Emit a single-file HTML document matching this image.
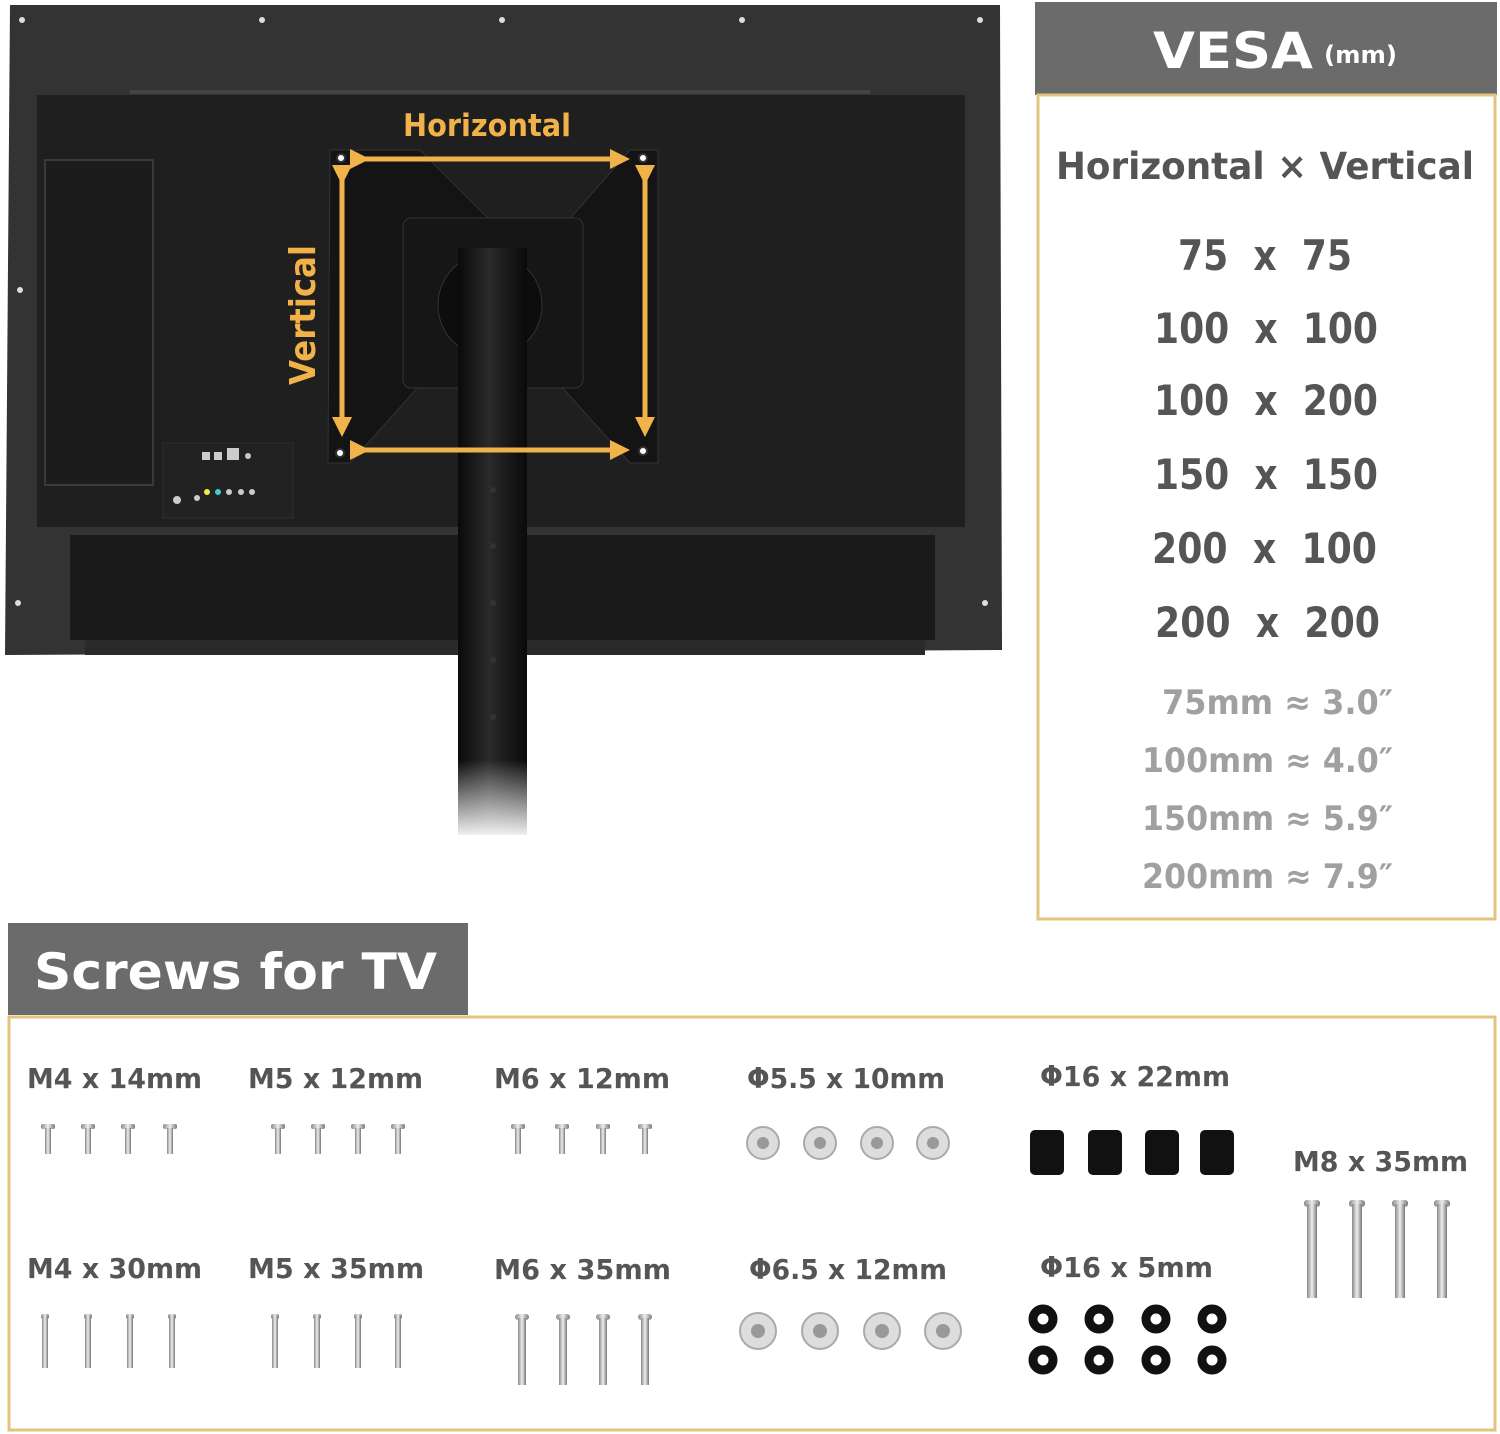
<!DOCTYPE html>
<html><head><meta charset="utf-8"><style>
html,body{margin:0;padding:0;background:#fff;}
svg{display:block}
text{font-family:"DejaVu Sans","Liberation Sans",sans-serif;font-weight:bold;}
</style></head><body>
<svg width="1500" height="1434" viewBox="0 0 1500 1434" xmlns="http://www.w3.org/2000/svg">
<defs>
<linearGradient id="pole" x1="0" x2="1"><stop offset="0" stop-color="#0a0a0a"/><stop offset="0.45" stop-color="#2a2a2a"/><stop offset="1" stop-color="#0a0a0a"/></linearGradient>
<linearGradient id="fade" x1="0" y1="0" x2="0" y2="1"><stop offset="0" stop-color="#fff" stop-opacity="0"/><stop offset="1" stop-color="#fff"/></linearGradient>
<linearGradient id="scr" x1="0" x2="1"><stop offset="0" stop-color="#888"/><stop offset="0.5" stop-color="#eee"/><stop offset="1" stop-color="#777"/></linearGradient>
<marker id="ah" markerWidth="4" markerHeight="4" refX="3" refY="2" orient="auto" markerUnits="strokeWidth"><path d="M0,0 L4,2 L0,4 z" fill="#f2b24a"/></marker>
<g id="s1" fill="url(#scr)"><rect x="-7" y="1124" width="14" height="5" rx="2"/><rect x="-3" y="1128" width="6" height="26"/></g>
<g id="s2" fill="url(#scr)"><rect x="-4" y="1314" width="8" height="5" rx="2"/><rect x="-3" y="1316" width="6" height="52"/></g>
<g id="s3" fill="url(#scr)"><rect x="-7" y="1314" width="14" height="6" rx="3"/><rect x="-4" y="1318" width="8" height="67"/></g>
<g id="s4" fill="url(#scr)"><rect x="-8" y="1200" width="16" height="7" rx="3"/><rect x="-5" y="1204" width="10" height="94"/></g>
</defs>
<!-- TV -->
<path d="M10,5 L1000,5 L1002,650 L5,655 Z" fill="#333"/>
<rect x="37" y="95" width="928" height="432" fill="#1f1f1f"/>
<line x1="130" y1="92" x2="870" y2="92" stroke="#444" stroke-width="4"/>
<rect x="45" y="160" width="108" height="325" fill="#1c1c1c" stroke="#3a3a3a" stroke-width="2"/>
<rect x="163" y="443" width="130" height="75" fill="#222" stroke="#2d2d2d"/>
<rect x="70" y="535" width="865" height="105" fill="#1a1a1a"/>
<rect x="85" y="640" width="840" height="15" fill="#2a2a2a"/>
<g fill="#ddd"><circle cx="20" cy="290" r="3"/><circle cx="18" cy="603" r="3"/><circle cx="985" cy="603" r="3"/><circle cx="262" cy="20" r="3"/><circle cx="502" cy="20" r="3"/><circle cx="742" cy="20" r="3"/><circle cx="980" cy="20" r="3"/><circle cx="22" cy="20" r="3"/></g>
<g fill="#ccc"><rect x="202" y="452" width="8" height="8"/><rect x="214" y="452" width="8" height="8"/><rect x="227" y="448" width="12" height="12"/><circle cx="248" cy="456" r="3"/><circle cx="177" cy="500" r="4"/><circle cx="197" cy="498" r="3"/></g>
<g><circle cx="207" cy="492" r="3" fill="#ee4"/><circle cx="218" cy="492" r="3" fill="#4cc"/><circle cx="229" cy="492" r="3" fill="#ccc"/><circle cx="241" cy="492" r="3" fill="#ccc"/><circle cx="252" cy="492" r="3" fill="#ccc"/></g>
<!-- VESA plate -->
<path d="M330,150 L420,150 L500,230 L560,230 L630,150 L658,150 L658,463 L630,463 L560,385 L420,385 L350,463 L328,463 Z" fill="#141414" stroke="#333"/>
<rect x="403" y="218" width="180" height="170" rx="8" fill="#161616" stroke="#333"/>
<circle cx="490" cy="305" r="52" fill="#0d0d0d" stroke="#333"/>
<!-- pole -->
<rect x="458" y="248" width="69" height="500" fill="url(#pole)"/>
<rect x="458" y="745" width="69" height="90" fill="url(#pole)"/>
<rect x="450" y="760" width="85" height="80" fill="url(#fade)"/>
<g fill="#333"><circle cx="493" cy="490" r="3"/><circle cx="493" cy="546" r="3"/><circle cx="493" cy="603" r="3"/><circle cx="493" cy="660" r="3"/><circle cx="493" cy="717" r="3"/></g>
<!-- arrows -->
<g stroke="#f2b24a" stroke-width="5" fill="none">
<line x1="365" y1="159" x2="625" y2="159" marker-end="url(#ah)" marker-start="url(#ah)"/>
<line x1="365" y1="450" x2="625" y2="450" marker-end="url(#ah)" marker-start="url(#ah)"/>
<line x1="342" y1="180" x2="342" y2="432" marker-end="url(#ah)" marker-start="url(#ah)"/>
<line x1="645" y1="180" x2="645" y2="432" marker-end="url(#ah)" marker-start="url(#ah)"/>
</g>
<g fill="#fff" stroke="#333" stroke-width="2"><circle cx="341" cy="158" r="4"/><circle cx="643" cy="158" r="4"/><circle cx="340" cy="453" r="4"/><circle cx="643" cy="451" r="4"/></g>
<text x="403" y="136" font-size="31" fill="#f2b24a" textLength="168" lengthAdjust="spacingAndGlyphs">Horizontal</text>
<text transform="translate(315,385) rotate(-90)" font-size="36" fill="#f2b24a" textLength="140" lengthAdjust="spacingAndGlyphs">Vertical</text>
<!-- VESA panel -->
<rect x="1035" y="2" width="462" height="93" fill="#6b6b6b"/>
<text x="1153" y="68" font-size="50" fill="#fff" textLength="160" lengthAdjust="spacingAndGlyphs">VESA</text>
<text x="1324" y="63" font-size="24" fill="#fff" textLength="73" lengthAdjust="spacingAndGlyphs">(mm)</text>
<rect x="1038" y="95" width="457" height="824" fill="none" stroke="#e3c47f" stroke-width="3"/>
<text x="1056" y="179" font-size="37" fill="#555" textLength="418" lengthAdjust="spacingAndGlyphs">Horizontal × Vertical</text>
<g font-size="42" fill="#555">
<text x="1178" y="270" textLength="174" lengthAdjust="spacingAndGlyphs" xml:space="preserve">75  x  75</text>
<text x="1154" y="343" textLength="224" lengthAdjust="spacingAndGlyphs" xml:space="preserve">100  x  100</text>
<text x="1154" y="415" textLength="224" lengthAdjust="spacingAndGlyphs" xml:space="preserve">100  x  200</text>
<text x="1154" y="489" textLength="224" lengthAdjust="spacingAndGlyphs" xml:space="preserve">150  x  150</text>
<text x="1152" y="563" textLength="225" lengthAdjust="spacingAndGlyphs" xml:space="preserve">200  x  100</text>
<text x="1155" y="637" textLength="225" lengthAdjust="spacingAndGlyphs" xml:space="preserve">200  x  200</text>
</g>
<g font-size="34" fill="#a0a0a0">
<text x="1162" y="714" textLength="231" lengthAdjust="spacingAndGlyphs">75mm ≈ 3.0″</text>
<text x="1142" y="772" textLength="251" lengthAdjust="spacingAndGlyphs">100mm ≈ 4.0″</text>
<text x="1142" y="830" textLength="251" lengthAdjust="spacingAndGlyphs">150mm ≈ 5.9″</text>
<text x="1142" y="888" textLength="251" lengthAdjust="spacingAndGlyphs">200mm ≈ 7.9″</text>
</g>
<!-- Screws -->
<rect x="8" y="923" width="460" height="92" fill="#6b6b6b"/>
<text x="34" y="989" font-size="50" fill="#fff" textLength="403" lengthAdjust="spacingAndGlyphs">Screws for TV</text>
<rect x="9" y="1017" width="1486" height="413" fill="none" stroke="#e3c47f" stroke-width="3"/>
<g font-size="28" fill="#555" lengthAdjust="spacingAndGlyphs">
<text x="27" y="1088" textLength="175" lengthAdjust="spacingAndGlyphs">M4 x 14mm</text><text x="248" y="1088" textLength="175" lengthAdjust="spacingAndGlyphs">M5 x 12mm</text><text x="494" y="1088" textLength="176" lengthAdjust="spacingAndGlyphs">M6 x 12mm</text>
<text x="747" y="1088" textLength="198" lengthAdjust="spacingAndGlyphs">Φ5.5 x 10mm</text><text x="1040" y="1086" textLength="190" lengthAdjust="spacingAndGlyphs">Φ16 x 22mm</text><text x="1293" y="1171" textLength="175" lengthAdjust="spacingAndGlyphs">M8 x 35mm</text>
<text x="27" y="1278" textLength="175" lengthAdjust="spacingAndGlyphs">M4 x 30mm</text><text x="248" y="1278" textLength="176" lengthAdjust="spacingAndGlyphs">M5 x 35mm</text><text x="494" y="1279" textLength="177" lengthAdjust="spacingAndGlyphs">M6 x 35mm</text>
<text x="749" y="1279" textLength="198" lengthAdjust="spacingAndGlyphs">Φ6.5 x 12mm</text><text x="1040" y="1277" textLength="173" lengthAdjust="spacingAndGlyphs">Φ16 x 5mm</text>
</g>
<use href="#s1" x="48"/><use href="#s1" x="88"/><use href="#s1" x="128"/><use href="#s1" x="170"/>
<use href="#s1" x="278"/><use href="#s1" x="318"/><use href="#s1" x="358"/><use href="#s1" x="398"/>
<use href="#s1" x="518"/><use href="#s1" x="562"/><use href="#s1" x="603"/><use href="#s1" x="645"/>
<use href="#s2" x="45"/><use href="#s2" x="88"/><use href="#s2" x="130"/><use href="#s2" x="172"/>
<use href="#s2" x="275"/><use href="#s2" x="317"/><use href="#s2" x="358"/><use href="#s2" x="398"/>
<use href="#s3" x="522"/><use href="#s3" x="563"/><use href="#s3" x="603"/><use href="#s3" x="645"/>
<use href="#s4" x="1312"/><use href="#s4" x="1357"/><use href="#s4" x="1400"/><use href="#s4" x="1442"/>
<g fill="#ddd" stroke="#aaa" stroke-width="2">
<circle cx="763" cy="1143" r="16"/><circle cx="820" cy="1143" r="16"/><circle cx="877" cy="1143" r="16"/><circle cx="933" cy="1143" r="16"/>
<circle cx="758" cy="1331" r="18"/><circle cx="820" cy="1331" r="18"/><circle cx="882" cy="1331" r="18"/><circle cx="943" cy="1331" r="18"/>
</g>
<g fill="#999"><circle cx="763" cy="1143" r="6"/><circle cx="820" cy="1143" r="6"/><circle cx="877" cy="1143" r="6"/><circle cx="933" cy="1143" r="6"/>
<circle cx="758" cy="1331" r="7"/><circle cx="820" cy="1331" r="7"/><circle cx="882" cy="1331" r="7"/><circle cx="943" cy="1331" r="7"/></g>
<g fill="#111">
<rect x="1030" y="1130" width="34" height="45" rx="5"/><rect x="1088" y="1130" width="34" height="45" rx="5"/><rect x="1145" y="1130" width="34" height="45" rx="5"/><rect x="1200" y="1130" width="34" height="45" rx="5"/>
</g>
<g fill="none" stroke="#111" stroke-width="9">
<circle cx="1043" cy="1319" r="10"/><circle cx="1099" cy="1319" r="10"/><circle cx="1156" cy="1319" r="10"/><circle cx="1212" cy="1319" r="10"/>
<circle cx="1043" cy="1360" r="10"/><circle cx="1099" cy="1360" r="10"/><circle cx="1156" cy="1360" r="10"/><circle cx="1212" cy="1360" r="10"/>
</g>
</svg>
</body></html>
